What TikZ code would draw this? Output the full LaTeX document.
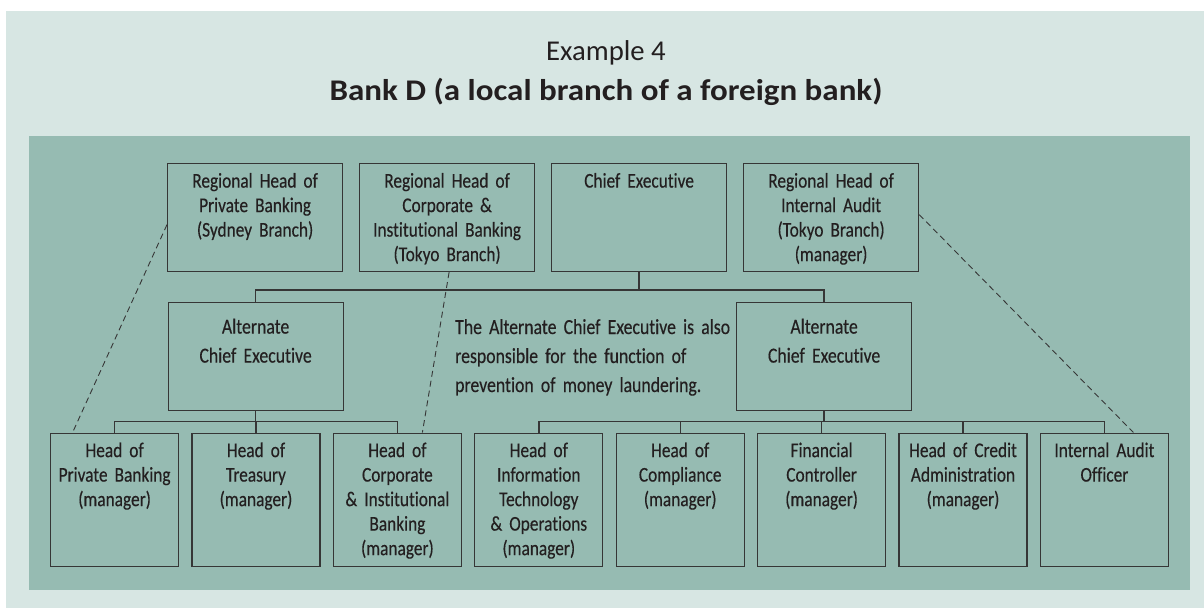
\documentclass[tikz,border=0pt]{standalone}
\usepackage{fontspec}
\setmainfont{Carlito}[Ligatures=NoCommon]
\newfontfamily\orgfont{Carlito}[FakeStretch=0.825, FakeBold=0.3, Ligatures=NoCommon]
\newfontfamily\headfont{Carlito}[FakeStretch=1.1, Ligatures=NoCommon]
\usetikzlibrary{calc}
\definecolor{pagebg}{HTML}{D7E6E3}
\definecolor{panelbg}{HTML}{96BBB2}
\definecolor{ink}{HTML}{231F20}
\definecolor{rule}{HTML}{363636}

\begin{document}
\begin{tikzpicture}[x=1pt,y=-1pt,
  every node/.style={text=ink, inner sep=0pt},
  topbox/.style={draw=rule, line width=1.2pt, anchor=north west,
    text width=175pt, align=center, text height=24pt, text depth=84pt,
    font=\orgfont\fontsize{21}{24.5}\selectfont},
  altbox/.style={draw=rule, line width=1.2pt, anchor=north west,
    text width=175pt, align=center, text height=31pt, text depth=77pt,
    font=\orgfont\fontsize{21.5}{29}\selectfont},
  lowbox/.style={draw=rule, line width=1.2pt, anchor=north west,
    text width=128pt, align=center, text height=24pt, text depth=109.5pt,
    font=\orgfont\fontsize{21}{24.5}\selectfont},
  link/.style={draw=rule, line width=1.4pt},
  dotted link/.style={draw=rule, line width=0.9pt, dash pattern=on 6pt off 4pt}]

% page and panel
\useasboundingbox (0,0) rectangle (1204,608);
\fill[white] (0,0) rectangle (1204,608);
\fill[pagebg] (6,11) rectangle (1204,608);
\fill[panelbg] (29,136) rectangle (1190,590);

% headings
\node[anchor=base, font=\fontsize{28.7}{32}\selectfont] (title) at (606,60.7) {Example 4};
\node[anchor=base, font=\headfont\bfseries\fontsize{30}{34}\selectfont] (subtitle) at (606,100)
  {Bank D (a local branch of a foreign bank)};

% top row
\node[topbox] (rA) at (167,163) {Regional Head of\\Private Banking\\(Sydney Branch)};
\node[topbox] (rB) at (359,163) {Regional Head of\\Corporate \&\\Institutional Banking\\(Tokyo Branch)};
\node[topbox] (ce) at (551,163) {Chief Executive};
\node[topbox] (rD) at (743,163) {Regional Head of\\Internal Audit\\(Tokyo Branch)\\(manager)};

% alternate chief executives
\node[altbox] (altL) at (167.5,302) {Alternate\\Chief Executive};
\node[altbox] (altR) at (736,302) {Alternate\\Chief Executive};

% remark
\node[anchor=base west, text width=300pt, align=left,
  font=\orgfont\fontsize{21.5}{29}\selectfont] (note) at (455,334)
  {The Alternate Chief Executive is also\\responsible for the function of\\prevention of money laundering.};

% bottom row
\node[lowbox] (b1) at (50,432.5) {Head of\\Private Banking\\(manager)};
\node[lowbox] (b2) at (191.4,432.5) {Head of\\Treasury\\(manager)};
\node[lowbox] (b3) at (332.8,432.5) {Head of\\Corporate\\\& Institutional\\Banking\\(manager)};
\node[lowbox] (b4) at (474.2,432.5) {Head of\\Information\\Technology\\\& Operations\\(manager)};
\node[lowbox] (b5) at (615.6,432.5) {Head of\\Compliance\\(manager)};
\node[lowbox] (b6) at (757,432.5) {Financial\\Controller\\(manager)};
\node[lowbox] (b7) at (898.4,432.5) {Head of Credit\\Administration\\(manager)};
\node[lowbox] (b8) at (1039.8,432.5) {Internal Audit\\Officer};

% bus levels
\coordinate (tbus) at (0,290);
\coordinate (lbus) at (0,421.5);
\coordinate (rbus) at (0,421.5);

% solid reporting lines
\draw[link] (ce.south) -- (ce.south |- tbus);
\draw[link] (altL.north) |- (altR.north |- tbus) -- (altR.north);

\draw[link] (altL.south) -- (altL.south |- lbus);
\draw[link] (b1.north) |- (b3.north |- lbus) -- (b3.north);
\draw[link] (b2.north) -- (b2.north |- lbus);

\draw[link] (altR.south) -- (altR.south |- rbus);
\draw[link] (b4.north) |- (b8.north |- rbus) -- (b8.north);
\foreach \b in {b5,b6,b7} \draw[link] (\b.north) -- (\b.north |- rbus);

% dashed functional lines
\draw[dotted link] ([yshift=-7pt]rA.west) -- ([xshift=-42pt]b1.north);
\draw[dotted link] ([xshift=2pt]rB.south) -- ([xshift=25pt]b3.north);
\draw[dotted link] ([yshift=3pt]rD.east) -- ([xshift=29pt]b8.north);
\end{tikzpicture}
\end{document}
